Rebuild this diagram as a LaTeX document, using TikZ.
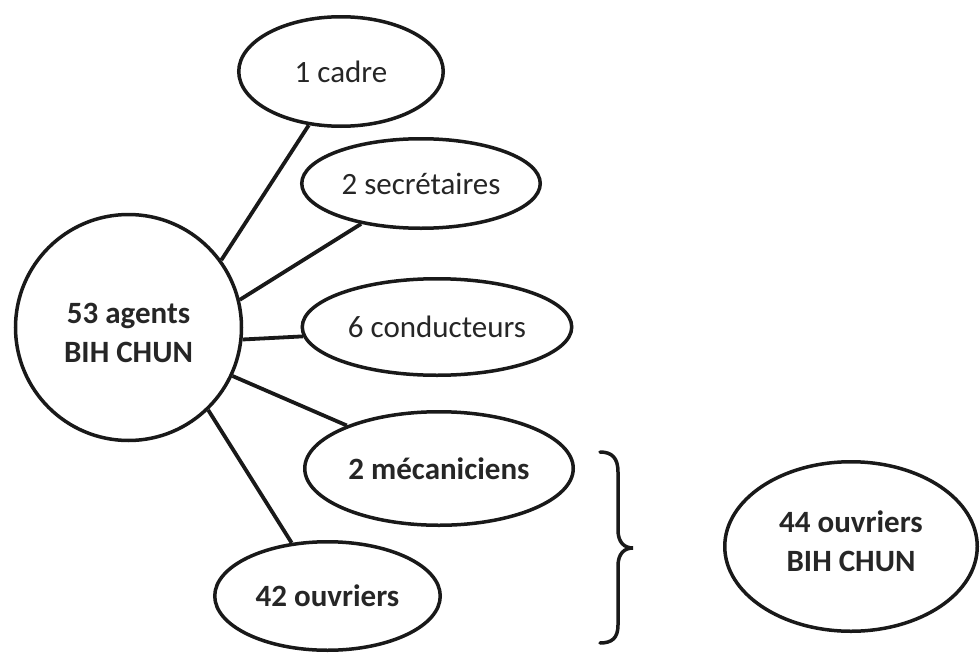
\documentclass[tikz,border=0pt]{standalone}
\usepackage{fontspec}
\setmainfont{Carlito}
\usetikzlibrary{shapes.geometric}
\tikzset{
  shp/.style={draw=black!90, line width=3.5pt, inner sep=0pt, text=black!85, align=center,
    font=\fontsize{31}{38}\selectfont},
  ell/.style={shp, ellipse},
  lbl/.style={inner sep=0pt, text=black!85, align=center, font=\fontsize{31}{39}\selectfont\bfseries},
  conn/.style={draw=black!90, line width=3.8pt},
}
\begin{document}
\begin{tikzpicture}[x=1pt,y=-1pt]
\useasboundingbox (0,0) rectangle (980,653);
\node[shp, circle, minimum size=226pt] (c) at (128.5,327.5) {};
\node[lbl] (ct) at (128.5,333) {53 agents\\BIH CHUN};
\node[ell, minimum width=204.5pt, minimum height=109.5pt] (cadre) at (341,71.5) {1 cadre};
\node[ell, minimum width=238.5pt, minimum height=89.5pt] (sec) at (421,183.5) {2 secrétaires};
\node[ell, minimum width=269.5pt, minimum height=96.5pt] (cond) at (437,327) {6 conducteurs};
\node[ell, minimum width=268.5pt, minimum height=113.5pt] (meca) at (439,468.5) {\bfseries 2 mécaniciens};
\node[ell, minimum width=225.5pt, minimum height=108.5pt] (ouv) at (327.5,596) {\bfseries 42 ouvriers};
\node[ell, minimum width=252.5pt, minimum height=169.5pt] (tot) at (851,546.5) {};
\node[lbl] (tt) at (851,541) {44 ouvriers\\BIH CHUN};
\draw[conn] (c.36.3) -- (cadre.-121);
\draw[conn] (c.14.4) -- (sec.-146);
\draw[conn] (c.-6) -- (cond.-176);
\draw[conn] (c.-25.4) -- (meca.155.6);
\draw[conn] (c.-46.4) -- (ouv.124.8);
\draw[draw=black!90, line width=3.5pt, line cap=round]
  (600,452) .. controls (612,452) and (618,458) .. (618,472) -- (618,530)
  .. controls (618,542) and (624,548) .. (633,548)
  .. controls (624,548) and (618,554) .. (618,566) -- (618,625)
  .. controls (618,638) and (612,643) .. (600,643);
\end{tikzpicture}
\end{document}
